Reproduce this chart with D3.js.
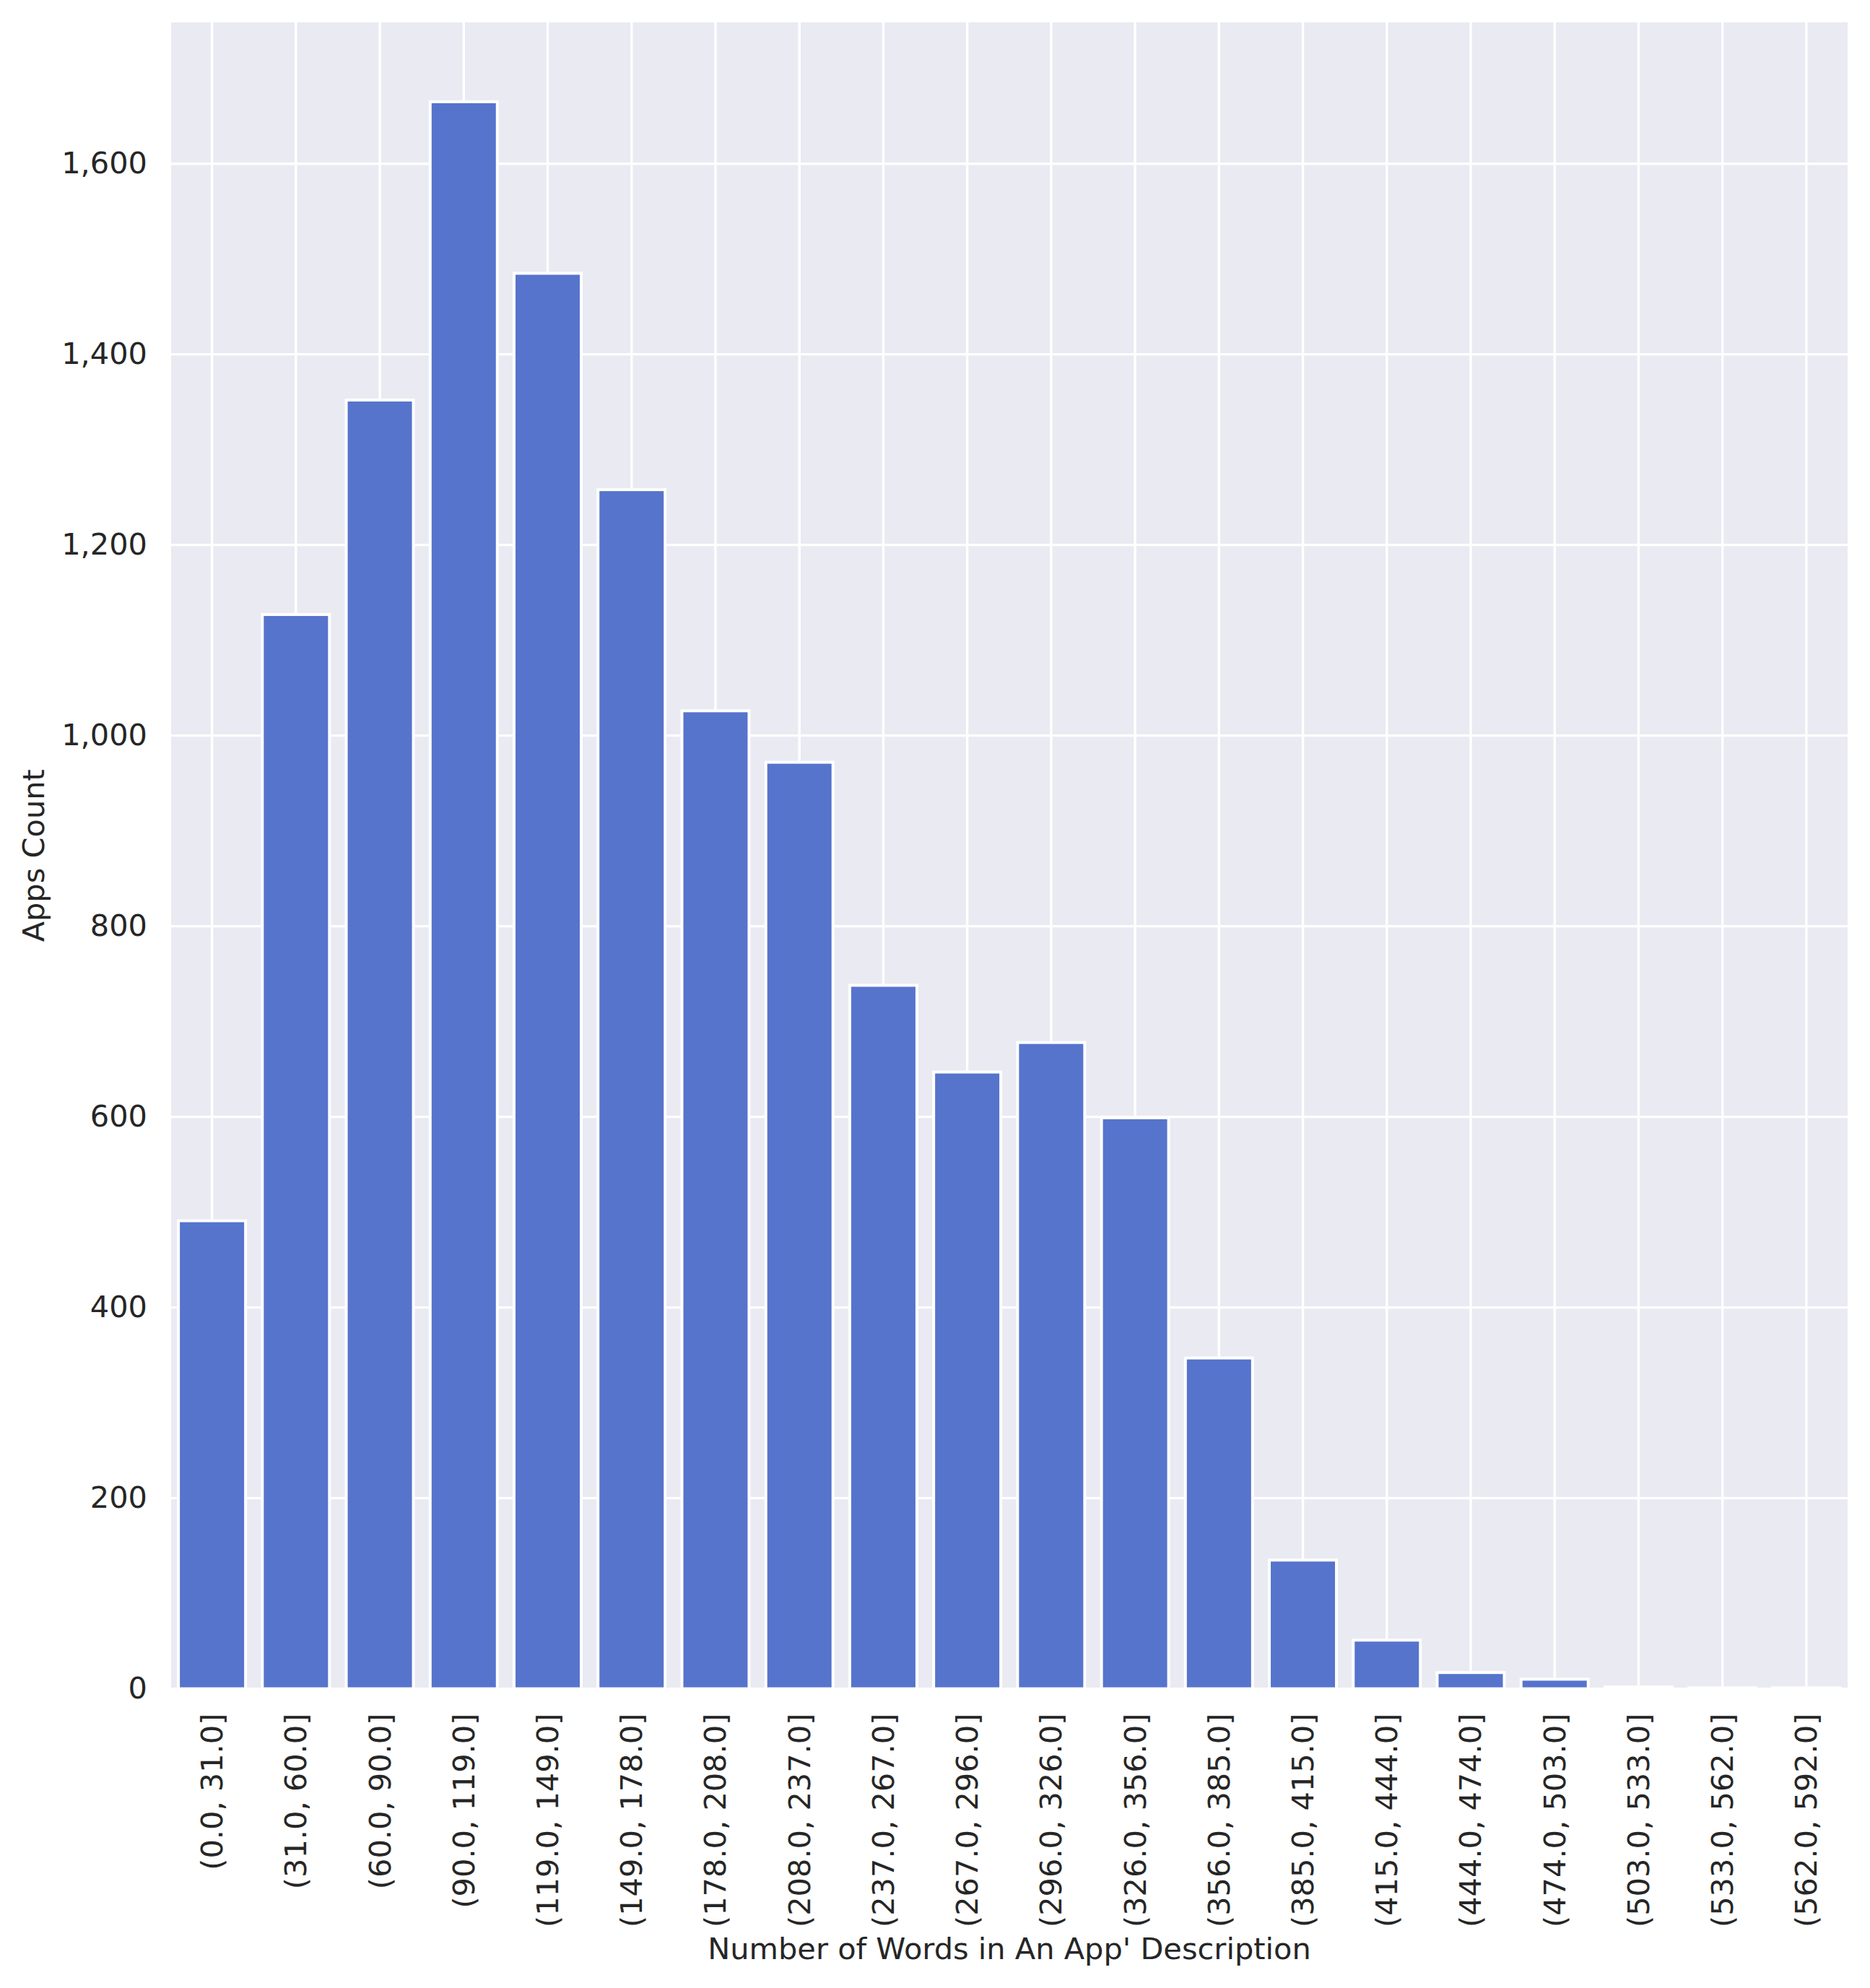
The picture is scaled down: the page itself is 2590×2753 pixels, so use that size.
<!DOCTYPE html>
<html>
<head>
<meta charset="utf-8">
<script src="https://cdn.jsdelivr.net/npm/d3@7"></script>
<style>
  html, body { margin: 0; padding: 0; background: #ffffff; }
  svg { display: block; }
</style>
</head>
<body>
<svg id="chart" width="2590" height="2753"></svg>
<script>
// ---- Data ----
const categories = [
  "(0.0, 31.0]", "(31.0, 60.0]", "(60.0, 90.0]", "(90.0, 119.0]", "(119.0, 149.0]",
  "(149.0, 178.0]", "(178.0, 208.0]", "(208.0, 237.0]", "(237.0, 267.0]", "(267.0, 296.0]",
  "(296.0, 326.0]", "(326.0, 356.0]", "(356.0, 385.0]", "(385.0, 415.0]", "(415.0, 444.0]",
  "(444.0, 474.0]", "(474.0, 503.0]", "(503.0, 533.0]", "(533.0, 562.0]", "(562.0, 592.0]"
];
const counts = [491, 1127, 1352, 1665, 1485, 1258, 1026, 972, 738, 647, 678, 599, 347, 135, 51, 17, 10, 2, 1, 1];
const yTicks = [0, 200, 400, 600, 800, 1000, 1200, 1400, 1600];
const xLabel = "Number of Words in An App' Description";
const yLabel = "Apps Count";

// ---- Layout ----
const plotLeft = 237, plotRight = 2559, plotTop = 31, plotBottom = 2338.6;
const bandLeft = 235.5, bandRight = 2560;
const fontFam = "'DejaVu Sans', sans-serif";
const textColor = "#262626";
const fs = 41.5;

const svg = d3.select("#chart");

const x = d3.scaleBand().domain(categories).range([bandLeft, bandRight]).paddingInner(0).paddingOuter(0);
const y = d3.scaleLinear().domain([0, d3.max(counts) * 1.05]).range([plotBottom, plotTop]);

// background
svg.append("rect")
  .attr("x", plotLeft).attr("y", plotTop)
  .attr("width", plotRight - plotLeft).attr("height", plotBottom - plotTop)
  .attr("fill", "#EAEAF2");

// grid
const grid = svg.append("g");
grid.selectAll("line.h").data(yTicks).join("line")
  .attr("class", "h")
  .attr("x1", plotLeft).attr("x2", plotRight)
  .attr("y1", d => y(d)).attr("y2", d => y(d))
  .attr("stroke", "#ffffff").attr("stroke-width", 3.4);
grid.selectAll("line.v").data(categories).join("line")
  .attr("class", "v")
  .attr("x1", d => x(d) + x.bandwidth() / 2).attr("x2", d => x(d) + x.bandwidth() / 2)
  .attr("y1", plotTop).attr("y2", plotBottom)
  .attr("stroke", "#ffffff").attr("stroke-width", 3.4);

// bars
const barW = x.bandwidth() * 0.8;
svg.append("g").selectAll("rect").data(counts).join("rect")
  .attr("x", (d, i) => x(categories[i]) + (x.bandwidth() - barW) / 2)
  .attr("width", barW)
  .attr("y", d => y(d))
  .attr("height", d => y(0) - y(d))
  .attr("fill", "#5674CC")
  .attr("stroke", "#ffffff")
  .attr("stroke-width", 4);

// y axis
const yAxis = d3.axisLeft(y).tickValues(yTicks).tickFormat(d3.format(",")).tickSize(0).tickPadding(33);
const ya = svg.append("g").attr("transform", `translate(${plotLeft},0)`).call(yAxis);
ya.select(".domain").remove();
ya.selectAll("text")
  .attr("font-family", fontFam).attr("font-size", fs).attr("fill", textColor);

// x axis
const xAxis = d3.axisBottom(x).tickSize(0).tickPadding(0);
const xa = svg.append("g").attr("transform", `translate(0,${plotBottom})`).call(xAxis);
xa.select(".domain").remove();
xa.selectAll("text")
  .attr("font-family", fontFam).attr("font-size", fs).attr("fill", textColor)
  .attr("text-anchor", "end")
  .attr("dy", null)
  .attr("y", 0)
  .attr("dominant-baseline", "central")
  .attr("transform", "translate(0,34) rotate(-90)");

// axis labels
svg.append("text")
  .attr("x", (plotLeft + plotRight) / 2).attr("y", 2713)
  .attr("text-anchor", "middle")
  .attr("font-family", fontFam).attr("font-size", fs).attr("fill", textColor)
  .text(xLabel);

svg.append("text")
  .attr("transform", `translate(61,${(plotTop + plotBottom) / 2}) rotate(-90)`)
  .attr("text-anchor", "middle")
  .attr("font-family", fontFam).attr("font-size", fs).attr("fill", textColor)
  .text(yLabel);
</script>
</body>
</html>
